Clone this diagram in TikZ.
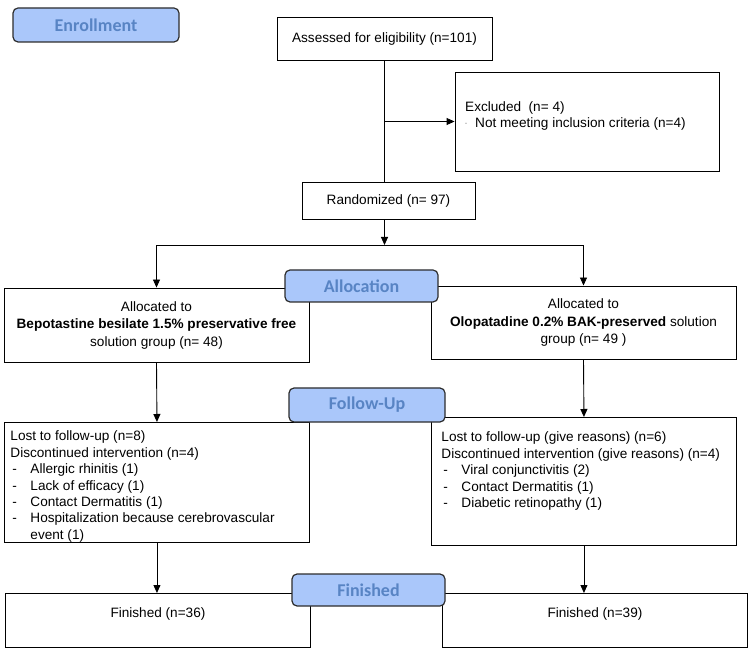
\documentclass[tikz,border=0pt]{standalone}
\usepackage{fontspec}
\setmainfont{Liberation Sans}
\newfontfamily\lblfont{Carlito}
\usetikzlibrary{arrows.meta}
\definecolor{lblfill}{RGB}{170,199,250}
\definecolor{lbltext}{RGB}{88,132,196}
\definecolor{lbldraw}{RGB}{45,45,45}
\newlength\dind
\newlength\dpre
\setlength\dind{20pt}
\setlength\dpre{2pt}
\newcommand\ditem[1]{\par\hangindent=\dind\hangafter=1\noindent\makebox[\dind][l]{\hspace{\dpre}-}#1}
\begin{document}
\begin{tikzpicture}[x=1pt,y=-1pt,
  box/.style={draw=black, line width=0.9pt, inner sep=0pt, font=\fontsize{13.6}{16.4}\selectfont},
  cbox/.style={box, align=center, font=\fontsize{13.6}{17.5}\selectfont},
  lbl/.style={draw=lbldraw, fill=lblfill, line width=1.2pt, rounded corners=5pt, text=lbltext,
    font=\lblfont\bfseries\fontsize{18}{20}\selectfont, inner sep=0pt},
  arr/.style={line width=0.9pt, -{Triangle[length=8pt,width=7pt]}},
  con/.style={line width=0.9pt}]
\useasboundingbox (0,0) rectangle (750,652);

% boxes
\node[cbox, minimum width=215pt, minimum height=43pt] (assess) at (384.5,38.5) {Assessed for eligibility (n=101)};
\node[box, minimum width=264pt, minimum height=99pt] (exc) at (587,121.5) {};
\node[anchor=west, align=left, inner sep=0pt, font=\fontsize{13.6}{16}\selectfont] (exct) at (465,115.5)
  {Excluded\ \ (n= 4)\\{\fontsize{6}{6}\selectfont ¨}\hspace{8pt}Not meeting inclusion criteria (n=4)};
\node[cbox, minimum width=173pt, minimum height=37pt] (rand) at (388.5,200.5) {Randomized (n= 97)};
\coordinate (split) at (384.5,245);

\node[cbox, minimum width=305pt, minimum height=74pt] (la) at (156.5,325)
  {Allocated to\\\textbf{Bepotastine besilate 1.5\% preservative free}\\solution group (n= 48)};
\node[cbox, minimum width=305pt, minimum height=73pt] (ra) at (583.5,322.5)
  {Allocated to\\\textbf{Olopatadine 0.2\% BAK-preserved} solution\\group (n= 49 )};

\node[box, anchor=north west, inner xsep=6pt] (lf) at (4,422)
  {\begin{minipage}[c][120pt][t]{293pt}\raggedright\vspace*{8.5pt}%
   Lost to follow-up (n=8)\par
   \noindent Discontinued intervention (n=4)
   \ditem{Allergic rhinitis (1)}
   \ditem{Lack of efficacy (1)}
   \ditem{Contact Dermatitis (1)}
   \ditem{Hospitalization because cerebrovascular\newline event (1)}
   \end{minipage}};
\node[box, anchor=north west, inner xsep=10pt] (rf) at (431,417)
  {\begin{minipage}[c][128pt][t]{285pt}\raggedright\vspace*{14.5pt}%
   Lost to follow-up (give reasons) (n=6)\par
   \noindent Discontinued intervention (give reasons) (n=4)
   \ditem{Viral conjunctivitis (2)}
   \ditem{Contact Dermatitis (1)}
   \ditem{Diabetic retinopathy (1)}
   \end{minipage}};

\node[box, anchor=north west] (finl) at (5,593)
  {\begin{minipage}[c][54pt][t]{305pt}\centering\vspace*{14.5pt}Finished (n=36)\end{minipage}};
\node[box, anchor=north west] (finr) at (442,593)
  {\begin{minipage}[c][54pt][t]{305pt}\centering\vspace*{14.5pt}Finished (n=39)\end{minipage}};

% connectors
\draw[con] (assess.south) -- (assess.south |- rand.north);
\draw[arr] (assess.south |- exc.west) -- (exc.west);
\draw[arr] (assess.south |- rand.south) -- (split);
\draw[arr] (split) -| (la.north);
\draw[arr] (split) -| (ra.north);
\draw[arr] (la.south) -- (lf.north);
\draw[arr] (ra.south) -- (rf.north);
\draw[arr] (lf.south) -- (lf.south |- finl.north);
\draw[arr] (rf.south) -- (rf.south |- finr.north);

% phase labels
\node[lbl, minimum width=166pt, minimum height=34pt] (enr) at (96,25) {Enrollment};
\node[lbl, minimum width=153pt, minimum height=32pt] (alloc) at (361.5,286) {Allocation};
\node[lbl, minimum width=156pt, minimum height=34pt] (fup) at (367,405) {Follow-Up};
\node[lbl, minimum width=153pt, minimum height=32pt] (fin) at (368.5,590) {Finished};
\end{tikzpicture}
\end{document}
